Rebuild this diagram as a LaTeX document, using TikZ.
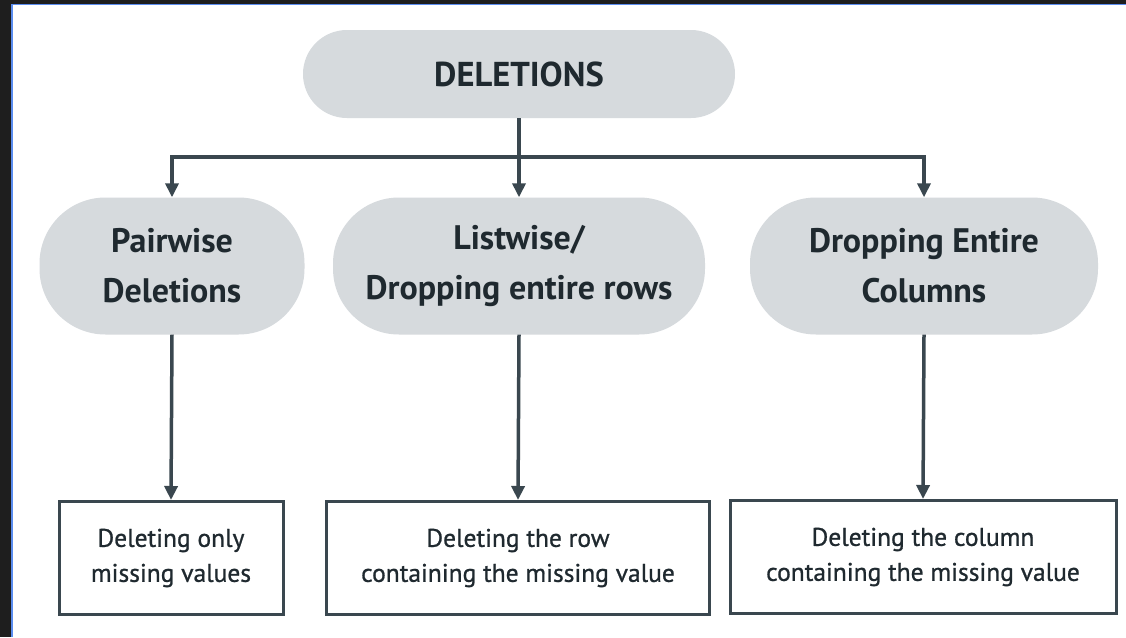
\documentclass[tikz,border=0pt]{standalone}
\usepackage{fontspec}
\setmainfont{PT Sans}
\usepackage{tikz}
\usetikzlibrary{arrows.meta, calc}

\definecolor{shapegray}{HTML}{D6DADD}
\definecolor{inkdark}{HTML}{1F292F}
\definecolor{linedark}{HTML}{3A474F}
\definecolor{framedark}{HTML}{1E1E1E}
\definecolor{frameblue}{HTML}{5B8DEF}

\begin{document}
\begin{tikzpicture}
    [
      x=1pt, y=-1pt,
      pill/.style={fill=shapegray, text=inkdark, align=center, inner sep=0pt,
                   font=\fontsize{34}{50}\selectfont\bfseries},
      leaf/.style={draw=linedark, line width=3pt, fill=white, text=inkdark,
                   align=center, inner sep=0pt, minimum height=113pt,
                   font=\fontsize{25.5}{35}\selectfont\addfontfeature{FakeBold=0.9}},
      link/.style={draw=linedark, line width=3.5pt},
      arr/.style={link, -{Triangle[length=14pt,width=13pt]}}
    ]
    \useasboundingbox (0,0) rectangle (1126,637);
    % frame
    \fill[white] (0,0) rectangle (1126,637);
    \fill[framedark] (0,0) rectangle (11,637);
    \fill[framedark] (0,0) rectangle (1126,3.5);
    \draw[frameblue, line width=1.6pt] (11.8,637) -- (11.8,4.3) -- (1126,4.3);
    % top node
    \node [pill, minimum width=432pt, minimum height=88pt, rounded corners=44pt,
           font=\fontsize{34.5}{40}\selectfont\bfseries] (del) at (519,74) {DELETIONS};
    % middle nodes
    \node [pill, minimum width=265pt, minimum height=137pt, rounded corners=66pt]
          (pair) at (172,266) {Pairwise\\Deletions};
    \node [pill, minimum width=372pt, minimum height=137pt, rounded corners=66pt]
          (list) at (519,266) {Listwise/\\Dropping entire rows};
    \node [pill, minimum width=348pt, minimum height=137pt, rounded corners=66pt]
          (drop) at (924,266) {Dropping Entire\\Columns};
    % bottom boxes
    \node [leaf, minimum width=224pt] (onlyval) at (171,558) {Deleting only\\missing values};
    \node [leaf, minimum width=383pt] (rowval) at (518,558) {Deleting the row\\containing the missing value};
    \node [leaf, minimum width=386pt] (colval) at (923,557) {Deleting the column\\containing the missing value};
    % junction points
    \coordinate (hub) at (del.south |- 0,157);
    \coordinate (hl) at (pair.north |- hub);
    \coordinate (hr) at (drop.north |- hub);
    % connectors
    \draw [link] (del.south) -- (hub);
    \draw [link, line cap=rect] (hl) -- (hr);
    \draw [arr] (hl) -- (pair.north);
    \draw [arr] (hub) -- (list.north);
    \draw [arr] (hr) -- (drop.north);
    \draw [arr] (pair.south) -- (onlyval.north);
    \draw [arr] (list.south) -- (rowval.north);
    \draw [arr] (drop.south) -- (colval.north);
\end{tikzpicture}
\end{document}
